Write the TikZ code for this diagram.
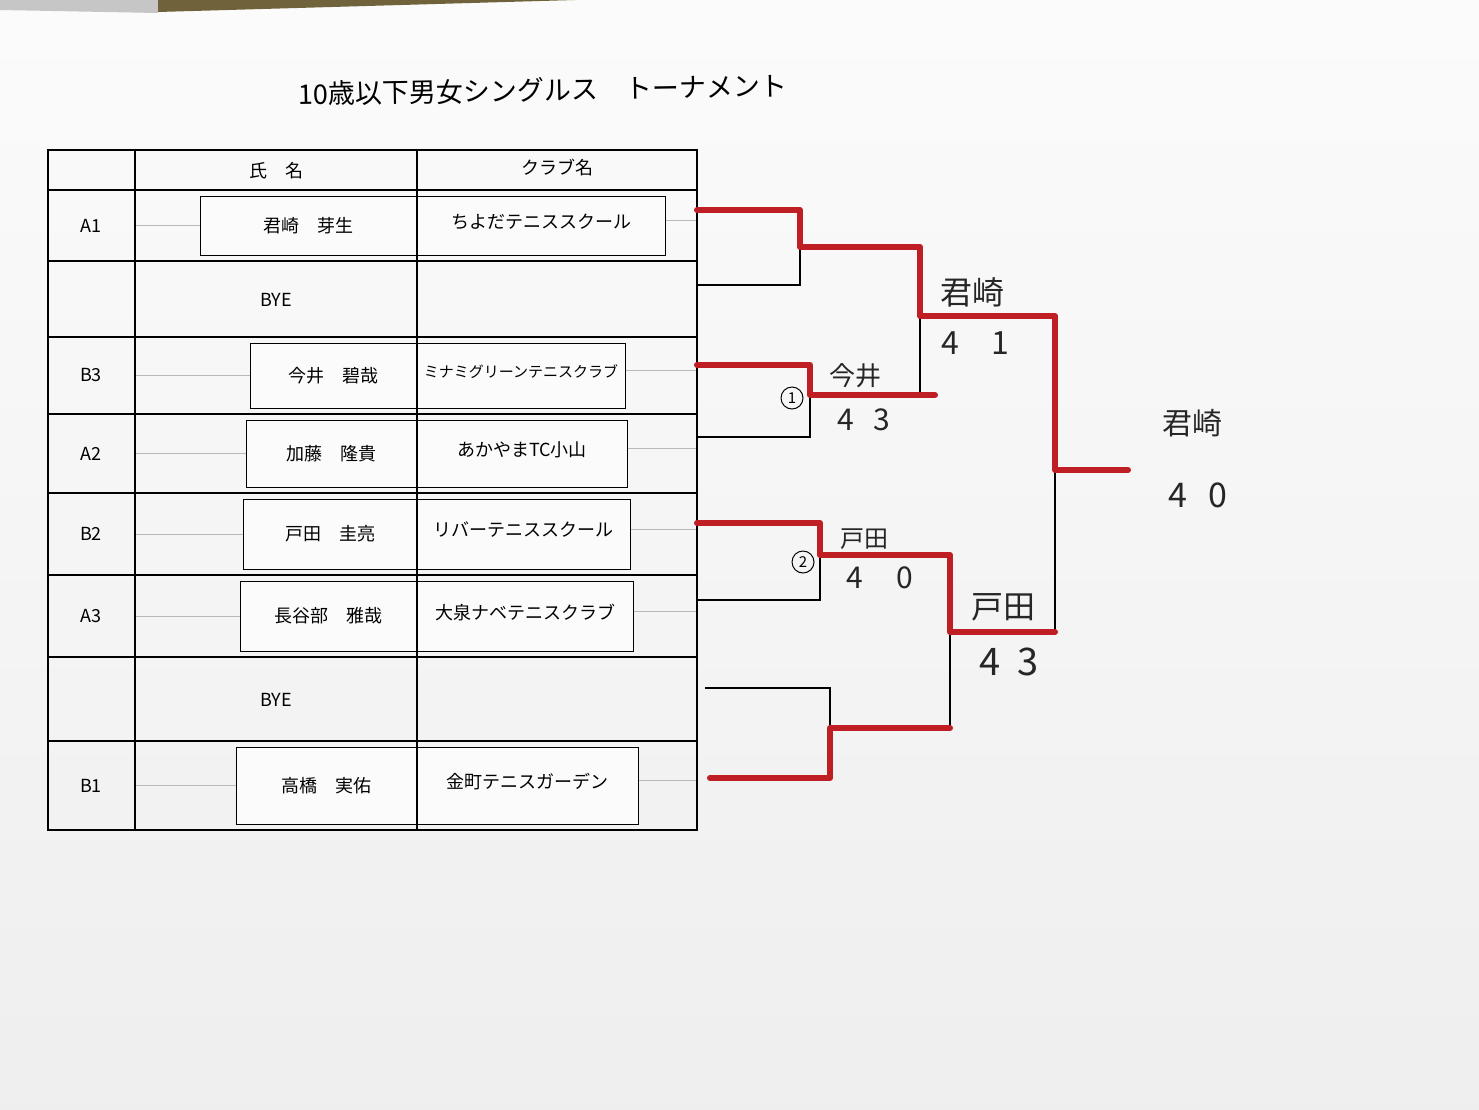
\documentclass[tikz,border=0pt]{standalone}
\usepackage{fontspec}
\setmainfont{Noto Sans CJK JP}
\usepackage{tikz}
\usetikzlibrary{positioning}
\usepackage{xcolor}
\definecolor{marker}{RGB}{190,30,36}
\definecolor{tabletop}{RGB}{112,98,58}

\begin{document}
\begin{tikzpicture}[x=1pt,y=-1pt,
        tableline/.style={line width=1.6pt, black},
        faint/.style={gray!55, line width=.6pt},
        slip/.style={draw=black, line width=1pt, fill=gray!3},
        bline/.style={line width=1.4pt, black},
        win/.style={line width=6pt, marker, line cap=round, line join=round},
        cell/.style={font=\fontsize{18}{18}\selectfont},
        hand/.style={text=black!85},
        round no/.style={circle, draw, line width=1pt, minimum size=22pt, inner sep=0pt, font=\fontsize{15}{15}\selectfont}]
        \useasboundingbox (0,0) rectangle (1479,1109);
        \shade[top color=gray!3, bottom color=gray!13] (0,0) rectangle (1479,1109);
        \fill[gray!45] (0,0) -- (158,0) -- (158,13) -- (0,10) -- cycle;
        \fill[tabletop] (158,0) -- (575,0) -- (158,12) -- cycle;

        \node[font=\fontsize{27}{27}\selectfont, rotate=1] (title) at (543,90) {10歳以下男女シングルス　トーナメント};

        % pasted slips
        \foreach \lab/\nm/\club/\fs/\sl/\sr/\ya/\yb in {A1/君崎　芽生/ちよだテニススクール/18/200/665/190/261, B3/今井　碧哉/ミナミグリーンテニスクラブ/15/250/625/337/414, A2/加藤　隆貴/あかやまTC小山/18/246/627/414/493, B2/戸田　圭亮/リバーテニススクール/18/243/630/493/575, A3/長谷部　雅哉/大泉ナベテニスクラブ/18/240/633/575/657, B1/高橋　実佑/金町テニスガーデン/18/236/638/741/830}
        {
            \draw[faint] (135,{(\ya+\yb)/2}) -- (\sl,{(\ya+\yb)/2});
            \draw[faint] (\sr,{(\ya+\yb)/2-5}) -- (697,{(\ya+\yb)/2-5});
            \draw[slip] (\sl,\ya+6) rectangle (\sr,\yb-6);
            \node[cell] (l-\lab) at (91,{(\ya+\yb)/2}) {\lab};
            \node[cell] (n-\lab) at ({(\sl+417)/2},{(\ya+\yb)/2}) {\nm};
            \node[font=\fontsize{\fs}{\fs}\selectfont] (c-\lab) at ({(417+\sr)/2},{(\ya+\yb)/2-4}) {\club};
        }

        % table
        \draw[tableline] (48,150) rectangle (697,830);
        \foreach \y in {190,261,337,414,493,575,657,741}
            \draw[tableline] (48,\y) -- (697,\y);
        \draw[tableline] (135,150) -- (135,830);
        \draw[tableline] (417,150) -- (417,830);
        \node[cell] (h-name) at (276,171) {氏　名};
        \node[cell] (h-club) at (557,168) {クラブ名};
        \node[cell] (bye1) at (276,300) {BYE};
        \node[cell] (bye2) at (276,700) {BYE};

        % bracket
        \coordinate (t1) at (697,210); \coordinate (b1) at (697,285); \coordinate (w1) at (800,247);
        \coordinate (t2) at (697,365); \coordinate (b2) at (697,437); \coordinate (w2) at (810,395);
        \coordinate (t3) at (697,523); \coordinate (b3) at (697,600); \coordinate (w3) at (820,555);
        \coordinate (t4) at (705,688); \coordinate (b4) at (710,778); \coordinate (w4) at (830,728);
        \coordinate (w5) at (920,316); \coordinate (w6) at (950,632);
        \coordinate (w7) at (1055,470); \coordinate (champ) at (1128,470);
        \foreach \i in {1,2,3,4}
            \draw[bline] (t\i) -| (w\i) |- (b\i);
        \draw[bline] (w1) -| (w5) |- (w2);
        \draw[bline] (w3) -| (w6) |- (w4);
        \draw[bline] (w5) -| (w7) |- (w6);
        \draw[bline] (w7) -- (champ);

        % winners in red
        \draw[win] (t1) -| (w1) -| (w5) -| (w7) -- (champ);
        \draw[win] (t2) -| (w2) -- ([xshift=15pt]w2 -| w5);
        \draw[win] (t3) -| (w3) -| (w6) -- (w6 -| w7);
        \draw[win] (b4) -| (w4) -- (w4 -| w6);

        % handwritten results
        \node[round no] (r1) at (792,398) {1};
        \node[round no] (r2) at (803,562) {2};
        \node[hand, font=\fontsize{26}{26}\selectfont] (imai) at (855,376) {今井};
        \node[hand, font=\fontsize{30}{30}\selectfont] (imai-s) at (864,420) {4\hspace{20pt}3};
        \node[hand, font=\fontsize{24}{24}\selectfont] (toda) at (864,539) {戸田};
        \node[hand, font=\fontsize{30}{30}\selectfont] (toda-s) at (880,578) {4\hspace{33pt}0};
        \node[hand, font=\fontsize{32}{32}\selectfont] (kimi) at (972,292) {君崎};
        \node[hand, font=\fontsize{32}{32}\selectfont] (kimi-s) at (975,343) {4\hspace{32pt}1};
        \node[hand, font=\fontsize{32}{32}\selectfont] (toda2) at (1003,607) {戸田};
        \node[hand, font=\fontsize{38}{38}\selectfont] (toda2-s) at (1009,662) {4\hspace{17pt}3};
        \node[hand, font=\fontsize{30}{30}\selectfont] (final) at (1192,423) {君崎};
        \node[hand, font=\fontsize{34}{34}\selectfont] (final-s) at (1198,495) {4\hspace{21pt}0};
    \end{tikzpicture}
\end{document}
